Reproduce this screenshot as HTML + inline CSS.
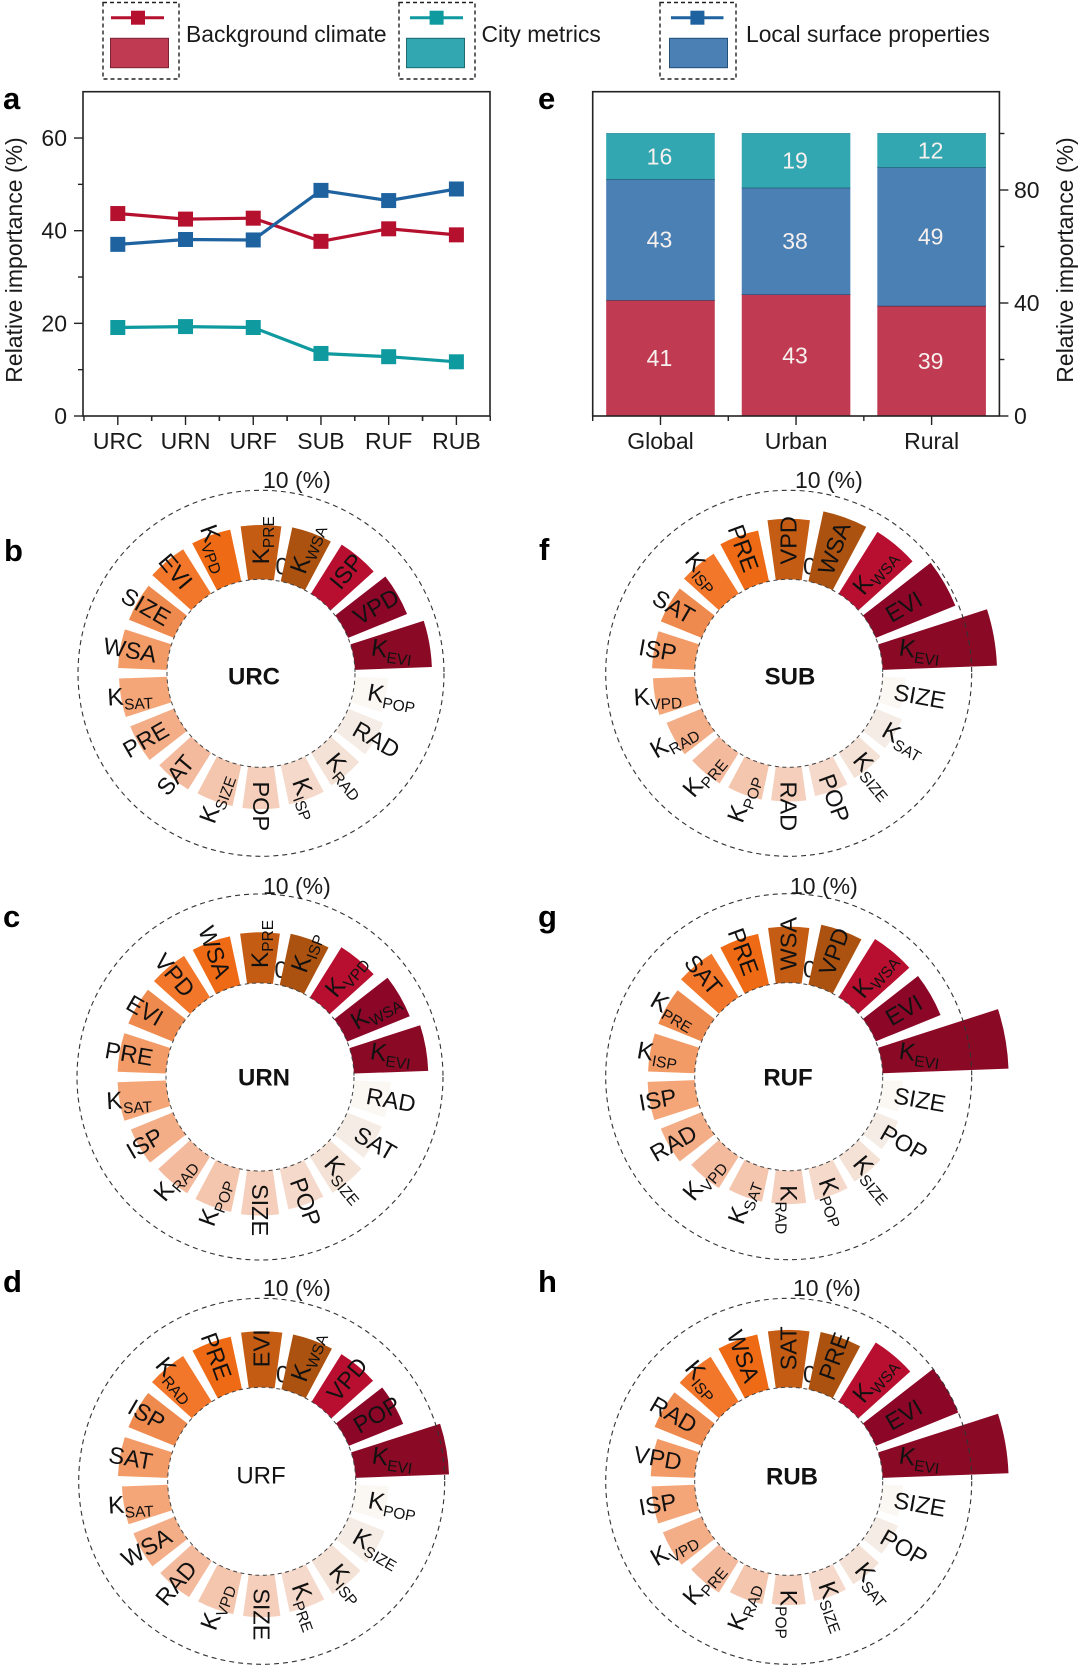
<!DOCTYPE html>
<html lang="en">
<head>
<meta charset="utf-8">
<title>Relative importance of drivers</title>
<style>
html,body{margin:0;padding:0;background:#fff;}
#figure{display:block;width:1080px;height:1668px;font-family:"Liberation Sans",Arial,sans-serif;fill:#1a1a1a;}
</style>
</head>
<body>
<svg id="figure" xmlns="http://www.w3.org/2000/svg" width="1080" height="1668" viewBox="0 0 1080 1668">
  <rect x="0" y="0" width="1080" height="1668" fill="#fff"/>
  <g>
    <g>
      <rect x="103" y="2.5" width="76" height="76.5" fill="none" stroke="#222" stroke-width="1.4" stroke-dasharray="4 3"/>
      <line x1="111" y1="17.7" x2="164" y2="17.7" stroke="#b5112f" stroke-width="3"/>
      <rect x="131" y="10.7" width="14" height="14" fill="#b5112f"/>
      <rect x="110.5" y="38.3" width="58" height="29.4" fill="#c03a52" stroke="#7a2433" stroke-width="1"/>
      <text x="186" y="42" font-size="22.85">Background climate</text>
    </g>
    <g>
      <rect x="399" y="2.5" width="76" height="76.5" fill="none" stroke="#222" stroke-width="1.4" stroke-dasharray="4 3"/>
      <line x1="410" y1="17.7" x2="463" y2="17.7" stroke="#0f9aa0" stroke-width="3"/>
      <rect x="429.6" y="10.7" width="14" height="14" fill="#0f9aa0"/>
      <rect x="406.5" y="38.3" width="58" height="29.4" fill="#32a7b1" stroke="#1d6a70" stroke-width="1"/>
      <text x="481.5" y="42" font-size="22.85">City metrics</text>
    </g>
    <g>
      <rect x="660" y="2.5" width="76" height="76.5" fill="none" stroke="#222" stroke-width="1.4" stroke-dasharray="4 3"/>
      <line x1="671" y1="17.7" x2="723.5" y2="17.7" stroke="#1e63a0" stroke-width="3"/>
      <rect x="690.4" y="10.7" width="14" height="14" fill="#1e63a0"/>
      <rect x="669.5" y="38.3" width="58" height="29.4" fill="#4a80b4" stroke="#234f78" stroke-width="1"/>
      <text x="746" y="42" font-size="22.85">Local surface properties</text>
    </g>
  </g>
  <g font-weight="bold" font-size="31" fill="#000">
    <text x="3" y="109">a</text>
    <text x="538" y="109">e</text>
    <text x="4" y="561">b</text>
    <text x="539" y="560">f</text>
    <text x="3" y="927">c</text>
    <text x="538" y="927">g</text>
    <text x="3" y="1292">d</text>
    <text x="538" y="1292">h</text>
  </g>
  <g id="panel-a"></g>
  <g id="panel-e"></g>
  <g id="donuts"></g>
</svg>
<script>
// ---- Panel a data ----
const lineCategories = ['URC', 'URN', 'URF', 'SUB', 'RUF', 'RUB'];
const climateSeries = [43.7, 42.5, 42.7, 37.7, 40.4, 39.1];
const citySeries = [19.1, 19.3, 19.1, 13.5, 12.8, 11.7];
const surfaceSeries = [37.05, 38.1, 38, 48.7, 46.5, 49];
const lineMajorTicks = [0, 20, 40, 60];
const lineMinorTicks = [10, 30, 50];

// ---- Panel e data ----
const barCategories = ['Global', 'Urban', 'Rural'];
const barClimate = [41, 43, 39];
const barSurface = [42.8, 37.8, 49];
const barCity = [16.2, 19.2, 12];
const barMajorTicks = [0, 40, 80];
const barMinorTicks = [20, 60, 100];

// ---- Circular panels data (counter-clockwise from the east) ----
const urcLabels = ['K_EVI','VPD','ISP','K_WSA','K_PRE','K_VPD','EVI','SIZE','WSA','K_SAT','PRE','SAT','K_SIZE','POP','K_ISP','K_RAD','RAD','K_POP'];
const urcValues = [8.65,7.15,6.5,6.2,6.1,5.95,5.9,5.45,5.5,5.4,5.3,4.85,4.7,4.7,4.5,4.3,4.25,3.7];
const urnLabels = ['K_EVI','K_WSA','K_VPD','K_ISP','K_PRE','WSA','VPD','EVI','PRE','K_SAT','ISP','K_RAD','K_POP','SIZE','POP','K_SIZE','SAT','RAD'];
const urnValues = [8.35,7.6,6.65,5.9,5.7,5.6,5.5,5.4,5.45,5.45,5.1,4.85,4.95,5.0,4.65,4.8,4.2,4.15];
const urfLabels = ['K_EVI','POP','VPD','K_WSA','EVI','PRE','K_RAD','ISP','SAT','K_SAT','WSA','RAD','K_VPD','SIZE','K_PRE','K_ISP','K_SIZE','K_POP'];
const urfValues = [10.5,6.6,6.3,6.3,6.3,6.05,6.05,5.6,5.6,5.15,5.0,4.8,4.7,4.7,4.45,4.4,4.35,3.7];
const subLabels = ['K_EVI','EVI','K_WSA','WSA','VPD','PRE','K_ISP','SAT','ISP','K_VPD','K_RAD','K_PRE','K_POP','RAD','POP','K_SIZE','K_SAT','SIZE'];
const subValues = [12.85,9.65,8.2,8.05,6.8,5.85,5.3,4.95,4.8,4.7,4.25,4.05,3.95,3.85,3.55,3.35,3.15,2.6];
const rufLabels = ['K_EVI','EVI','K_WSA','VPD','WSA','PRE','SAT','K_PRE','K_ISP','ISP','RAD','K_VPD','K_SAT','K_RAD','K_POP','K_SIZE','POP','SIZE'];
const rufValues = [14.15,7.85,7.7,6.9,6.3,5.85,5.75,5.25,5.25,5.3,4.95,4.2,3.8,3.75,3.6,3.35,2.7,2.3];
const rubLabels = ['K_EVI','EVI','K_WSA','PRE','SAT','WSA','K_ISP','RAD','VPD','ISP','K_VPD','K_PRE','K_RAD','K_POP','K_SIZE','K_SAT','POP','SIZE'];
const rubValues = [14.15,10,7.85,6.6,6.45,6.3,5.95,5.7,4.95,4.85,4.7,4.2,3.55,3.35,3.2,3.1,2.7,2.3];
const radialMaxLabel = '10 (%)';
const radialMinLabel = '0';

// ---- Styling and layout ----
const rankColors = ['#8a0a26','#8c0628','#b80f30','#ab5210','#c55c14','#ee6a14','#f2772b','#ee8a4e','#f29b67','#f4a678','#f3ae88','#f4ba9d','#f4c6ae','#f5cfbb','#f5d9ca','#f4e2d6','#f5ece5','#fbf8f4'];
const SVGNS = 'http://www.w3.org/2000/svg';
const AXIS = '#222';

function add(parent, tag, attrs, text) {
  const node = document.createElementNS(SVGNS, tag);
  for (const key in attrs) node.setAttribute(key, attrs[key]);
  if (text !== undefined) node.textContent = text;
  parent.appendChild(node);
  return node;
}

// ---- Panel a ----
(function drawLinePanel() {
  const root = document.getElementById('panel-a');
  const L = 83, R = 490, T = 91.7, B = 416;
  const yScale = v => B - (v / 70) * (B - T);
  const xScale = i => 117.8 + i * 67.72;

  let el = add(root, 'rect', {x: L, y: T, width: R - L, height: B - T, fill: 'none', stroke: AXIS, 'stroke-width': 1.6});
  
  

  lineMajorTicks.forEach(t => {
    const y = yScale(t);
    el = add(root, 'line', {x1: L - 9, x2: L, y1: y, y2: y, stroke: AXIS, 'stroke-width': 1.4});
    
    
    el = add(root, 'text', {x: 67, y: y + 8, 'text-anchor': 'end', 'font-size': 23}, String(t));
    
    
  });
  lineMinorTicks.forEach(t => {
    const y = yScale(t);
    el = add(root, 'line', {x1: L - 5, x2: L, y1: y, y2: y, stroke: AXIS, 'stroke-width': 1.4});
    
    
  });
  lineCategories.forEach((c, i) => {
    const x = xScale(i);
    el = add(root, 'line', {x1: x, x2: x, y1: B, y2: B + 9, stroke: AXIS, 'stroke-width': 1.4});
    
    
    el = add(root, 'text', {x: x, y: 449, 'text-anchor': 'middle', 'font-size': 23}, c);
    
    
    [-0.5, 0.5].forEach(off => {
      const mx = xScale(i + off);
      el = add(root, 'line', {x1: mx, x2: mx, y1: B, y2: B + 5, stroke: AXIS, 'stroke-width': 1.4});
      
      
    });
  });

  el = add(root, 'text', {transform: 'translate(22,260) rotate(-90)', 'text-anchor': 'middle', 'font-size': 23}, 'Relative importance (%)');
  
  

  const series = [
    ['city-metrics', citySeries, '#0f9aa0'],
    ['background-climate', climateSeries, '#b5112f'],
    ['local-surface-properties', surfaceSeries, '#1e63a0']
  ];
  series.forEach(s => {
    const pts = s[1].map((v, i) => xScale(i).toFixed(1) + ',' + yScale(v).toFixed(1)).join(' ');
    el = add(root, 'polyline', {points: pts, fill: 'none', stroke: s[2], 'stroke-width': 3.2});
    
    
    s[1].forEach((v, i) => {
      el = add(root, 'rect', {x: xScale(i) - 7.5, y: yScale(v) - 7.5, width: 15, height: 15, fill: s[2]});
      
      
    });
  });
})();

// ---- Panel e ----
(function drawBarPanel() {
  const root = document.getElementById('panel-e');
  const L = 592.7, R = 999.4, T = 91.7, B = 416;
  const yScale = v => B - v * 2.825;
  const slot = (R - L) / 3;
  const xCenter = i => L + slot * (i + 0.5);
  const barW = 108.6;

  const stacks = [
    ['climate', barClimate, '#c03a52', '#2a2a4a'],
    ['surface', barSurface, '#4a80b4', '#17405e'],
    ['city', barCity, '#32a7b1', '#3e9aa6']
  ];
  barCategories.forEach((c, i) => {
    let base = 0;
    stacks.forEach(s => {
      const v = s[1][i];
      const top = base + v;
      let el = add(root, 'rect', {x: xCenter(i) - barW / 2, y: yScale(top), width: barW, height: yScale(base) - yScale(top), fill: s[2]});
      
      
      el = add(root, 'line', {x1: xCenter(i) - barW / 2, x2: xCenter(i) + barW / 2, y1: yScale(top), y2: yScale(top), stroke: s[3], 'stroke-width': 1});
      
      
      el = add(root, 'text', {x: xCenter(i) - 1, y: yScale(base + v / 2) + 8, 'text-anchor': 'middle', 'font-size': 23, fill: '#f6f0ee'}, String(Math.round(v)));
      
      
      base = top;
    });
    let tick = add(root, 'line', {x1: xCenter(i), x2: xCenter(i), y1: B, y2: B + 9, stroke: AXIS, 'stroke-width': 1.4});
    
    
    tick = add(root, 'text', {x: xCenter(i), y: 449, 'text-anchor': 'middle', 'font-size': 23}, c);
    
    
    tick = add(root, 'line', {x1: L + slot * i, x2: L + slot * i, y1: B, y2: B + 5, stroke: AXIS, 'stroke-width': 1.4});
    
    
  });

  let el = add(root, 'rect', {x: L, y: T, width: R - L, height: B - T, fill: 'none', stroke: AXIS, 'stroke-width': 1.6});
  
  

  barMajorTicks.forEach(t => {
    const y = yScale(t);
    el = add(root, 'line', {x1: R, x2: R + 9, y1: y, y2: y, stroke: AXIS, 'stroke-width': 1.4});
    
    
    el = add(root, 'text', {x: 1014, y: y + 8, 'font-size': 23}, String(t));
    
    
  });
  barMinorTicks.forEach(t => {
    const y = yScale(t);
    el = add(root, 'line', {x1: R, x2: R + 5, y1: y, y2: y, stroke: AXIS, 'stroke-width': 1.4});
    
    
  });
  el = add(root, 'text', {transform: 'translate(1073,260) rotate(-90)', 'text-anchor': 'middle', 'font-size': 23}, 'Relative importance (%)');
  
  
})();

// ---- Circular bar panels ----
const donutPanels = [
  {title: 'URC', labels: urcLabels, values: urcValues, cx: 261, cy: 673.3, tx: 254, ty: 676, mx: 263, my: 488, bold: true},
  {title: 'URN', labels: urnLabels, values: urnValues, cx: 260, cy: 1077, tx: 264, ty: 1077, mx: 263, my: 894, bold: true},
  {title: 'URF', labels: urfLabels, values: urfValues, cx: 261.7, cy: 1481.3, tx: 261, ty: 1475, mx: 263, my: 1296, bold: false},
  {title: 'SUB', labels: subLabels, values: subValues, cx: 788.7, cy: 673.3, tx: 790, ty: 676, mx: 795, my: 488, bold: true},
  {title: 'RUF', labels: rufLabels, values: rufValues, cx: 788.7, cy: 1076.7, tx: 788, ty: 1077, mx: 790, my: 894, bold: true},
  {title: 'RUB', labels: rubLabels, values: rubValues, cx: 788.7, cy: 1481.3, tx: 792, ty: 1476, mx: 793, my: 1296, bold: true}
];

function drawDonut(panel) {
  const root = document.getElementById('donuts');
  const R0 = 94, R10 = 183, STEP = 20, HALF = 7.9, LABEL_R = 133;
  const rScale = v => R0 + (v / 10) * (R10 - R0);
  const px = (r, deg) => panel.cx + r * Math.cos(deg * Math.PI / 180);
  const py = (r, deg) => panel.cy - r * Math.sin(deg * Math.PI / 180);
  const slug = panel.title.toLowerCase();

  const g = add(root, 'g', {});
  
  

  let el = add(g, 'text', {x: panel.cx + 21, y: panel.cy - 99, 'text-anchor': 'middle', 'font-size': 24}, radialMinLabel);
  
  

  panel.values.forEach((v, i) => {
    const mid = 10 + i * STEP;
    const a0 = mid - HALF, a1 = mid + HALF;
    const r = rScale(v);
    const d = 'M' + px(R0, a0).toFixed(2) + ' ' + py(R0, a0).toFixed(2) +
      'L' + px(r, a0).toFixed(2) + ' ' + py(r, a0).toFixed(2) +
      'A' + r.toFixed(2) + ' ' + r.toFixed(2) + ' 0 0 0 ' + px(r, a1).toFixed(2) + ' ' + py(r, a1).toFixed(2) +
      'L' + px(R0, a1).toFixed(2) + ' ' + py(R0, a1).toFixed(2) +
      'A' + R0 + ' ' + R0 + ' 0 0 1 ' + px(R0, a0).toFixed(2) + ' ' + py(R0, a0).toFixed(2) + 'Z';
    el = add(g, 'path', {d: d, fill: rankColors[i]});
    
    
  });

  el = add(g, 'circle', {cx: panel.cx, cy: panel.cy, r: R0, fill: 'none', stroke: '#444', 'stroke-width': 1, 'stroke-dasharray': '4 3.5'});
  
  
  el = add(g, 'circle', {cx: panel.cx, cy: panel.cy, r: R10, fill: 'none', stroke: '#333', 'stroke-width': 1.1, 'stroke-dasharray': '5 4'});
  
  

  panel.labels.forEach((label, i) => {
    const mid = 10 + i * STEP;
    const parts = label.split('_');
    let rot;
    if (mid === 10) rot = 8;
    else if (mid === 190 && parts.length > 1) rot = -3;
    else if (mid <= 90) rot = -mid;
    else if (mid < 270) rot = 180 - mid;
    else rot = 360 - mid;
    const t = add(g, 'text', {
      transform: 'translate(' + px(LABEL_R, mid).toFixed(1) + ',' + py(LABEL_R, mid).toFixed(1) + ') rotate(' + rot + ')',
      y: 8, 'text-anchor': 'middle', 'font-size': parts.length > 1 ? 24.5 : 23.5, fill: '#111'
    });
    
    
    const main = add(t, 'tspan', {}, parts[0]);
    
    
    if (parts[1]) {
      const sub = add(t, 'tspan', {dy: 5, 'font-size': 15.5}, parts[1]);
      
      
    }
  });

  el = add(g, 'text', {x: panel.mx, y: panel.my, 'font-size': 23}, radialMaxLabel);
  
  

  el = add(g, 'text', {x: panel.tx, y: panel.ty + 8.6, 'text-anchor': 'middle', 'font-size': 24, 'font-weight': panel.bold ? 'bold' : 'normal', fill: '#111'}, panel.title);
  
  
}
donutPanels.forEach(drawDonut);
</script>
</body>
</html>
